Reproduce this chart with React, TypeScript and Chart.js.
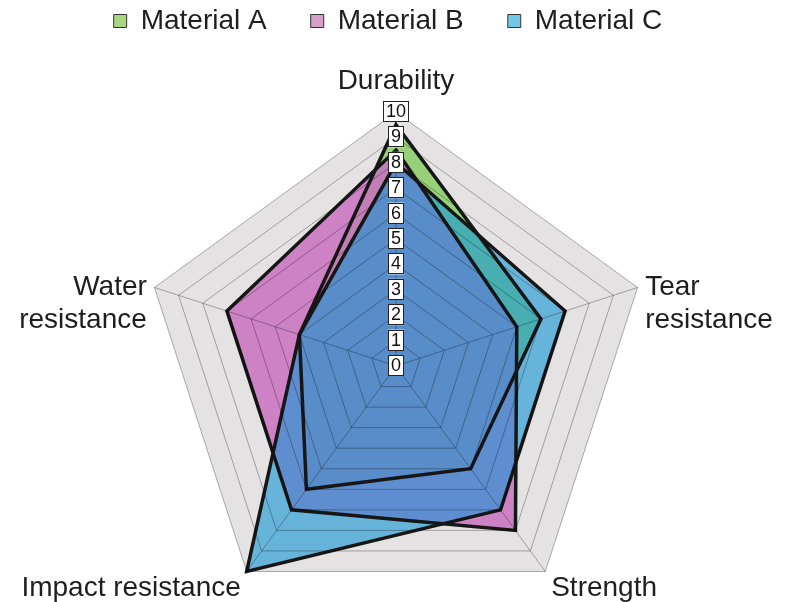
import React, { useEffect, useRef } from 'react';
import { Chart, registerables } from 'chart.js';

Chart.register(...registerables);

const FONT = "'Liberation Sans', Arial, Helvetica, sans-serif";

// ---- data ----
const categories: (string | string[])[] = [
  'Durability',
  ['Tear', 'resistance'],
  'Strength',
  'Impact resistance',
  ['Water', 'resistance'],
];
const seriesNames = ['Material A', 'Material B', 'Material C'];
const materialA = [9.5, 6, 5, 6, 4];
const materialB = [8.5, 5, 8, 7, 7];
const materialC = [8, 7, 7, 10, 4];
const scaleMin = 0;
const scaleMax = 10;
const scaleStep = 1;

// ---- styles ----
const fillColors = ['rgba(130,205,95,0.8)', 'rgba(201,113,192,0.85)', 'rgba(20,150,215,0.6)'];
const legendColors = ['#aad682', '#d7a0c8', '#6ec8e6'];
const drawOrder = [3, 2, 1];
const TEXT = '#1e1e1e';
const TICK_SIZE = 18;
const TICK_PAD = { top: 2, bottom: 1, left: 3, right: 3 };
const LABEL_SIZE = 28;
const LABEL_LINE = 33;
// per point label: extra radial distance, alignment, baseline shift
const pointLabelLayout = [
  { pad: 23, align: 'center', dy: 0 },
  { pad: 8, align: 'left', dy: 10 },
  { pad: 10, align: 'left', dy: 16 },
  { pad: 10, align: 'right', dy: 16 },
  { pad: 8, align: 'right', dy: 10 },
];

const backgroundPlugin = {
  id: 'radarBackground',
  beforeDraw(chart: any) {
    const s = chart.scales.r;
    const ctx = chart.ctx;
    const d = s.getDistanceFromCenterForValue(scaleMax);
    ctx.save();
    ctx.beginPath();
    for (let i = 0; i < categories.length; i++) {
      const p = s.getPointPosition(i, d);
      if (i === 0) ctx.moveTo(p.x, p.y);
      else ctx.lineTo(p.x, p.y);
    }
    ctx.closePath();
    ctx.fillStyle = '#e4e2e2';
    ctx.fill();
    ctx.restore();
  },
};

const labelsPlugin = {
  id: 'radarLabels',
  afterDraw(chart: any) {
    const s = chart.scales.r;
    const ctx = chart.ctx;
    ctx.save();
    ctx.font = `${TICK_SIZE}px ${FONT}`;
    ctx.textAlign = 'center';
    ctx.textBaseline = 'middle';
    s.ticks.forEach((t: any, i: number) => {
      const off = s.getDistanceFromCenterForValue(t.value);
      const label = String(t.label);
      const w = ctx.measureText(label).width;
      const x = s.xCenter - w / 2 - TICK_PAD.left;
      const y = s.yCenter - off - TICK_SIZE / 2 - TICK_PAD.top;
      const bw = w + TICK_PAD.left + TICK_PAD.right;
      const bh = TICK_SIZE + TICK_PAD.top + TICK_PAD.bottom;
      if (i === 0) {
        ctx.fillStyle = '#ffffff';
        ctx.fillRect(x, y, bw, bh);
        ctx.fillStyle = '#111';
        ctx.fillText(label, s.xCenter, s.yCenter - off);
      }
      ctx.strokeStyle = '#222';
      ctx.lineWidth = 1;
      ctx.strokeRect(Math.round(x) + 0.5, Math.round(y) + 0.5, Math.round(bw) - 1, Math.round(bh) - 1);
    });
    ctx.font = `${LABEL_SIZE}px ${FONT}`;
    ctx.fillStyle = TEXT;
    ctx.textBaseline = 'alphabetic';
    categories.forEach((cat, i) => {
      const lay = pointLabelLayout[i];
      const p = s.getPointPosition(i, s.drawingArea + lay.pad);
      const lines = Array.isArray(cat) ? cat : [cat];
      ctx.textAlign = lay.align;
      lines.forEach((ln, j) => {
        ctx.fillText(ln, p.x, p.y + lay.dy + j * LABEL_LINE);
      });
    });
    ctx.restore();
  },
};

export default function App() {
  const ref = useRef<HTMLCanvasElement | null>(null);
  useEffect(() => {
    if (!ref.current) return;
    const series = [materialA, materialB, materialC];
    const chart = new Chart(ref.current, {
      type: 'radar',
      data: {
        labels: categories as any,
        datasets: series.map((vals, k) => ({
          label: seriesNames[k],
          data: vals,
          fill: true,
          backgroundColor: fillColors[k],
          borderColor: '#161616',
          borderWidth: 3.5,
          pointRadius: 0,
          pointHoverRadius: 0,
          order: drawOrder[k],
        })),
      },
      options: {
        responsive: true,
        maintainAspectRatio: false,
        animation: false,
        layout: { padding: { left: 0, right: 11, top: -37, bottom: 9 } },
        plugins: {
          filler: { drawTime: 'beforeDatasetsDraw' },
          legend: {
            position: 'top',
            labels: {
              font: { size: LABEL_SIZE, family: FONT },
              color: TEXT,
              boxWidth: 13,
              boxHeight: 13,
              padding: 44,
              sort: (a: any, b: any) => a.datasetIndex - b.datasetIndex,
              generateLabels: (c: any) => {
                const items = (Chart as any).defaults.plugins.legend.labels.generateLabels(c);
                return items.map((it: any) => ({
                  ...it,
                  fillStyle: legendColors[it.datasetIndex],
                  strokeStyle: '#333',
                  lineWidth: 1,
                }));
              },
            },
          },
          title: {
            display: true,
            text: '',
            position: 'left',
            padding: { top: 5, bottom: 0 },
            font: { size: 10 },
          },
          subtitle: {
            display: true,
            text: '',
            position: 'top',
            weight: 500,
            padding: { top: 44, bottom: 0 },
            font: { size: 10 },
          },
          tooltip: { enabled: false },
        },
        scales: {
          r: {
            min: scaleMin,
            max: scaleMax,
            ticks: {
              stepSize: scaleStep,
              z: 2,
              color: '#111',
              font: { size: TICK_SIZE, family: FONT },
              showLabelBackdrop: true,
              backdropColor: '#ffffff',
              backdropPadding: TICK_PAD,
            },
            grid: { color: 'rgba(0,0,0,0.3)', lineWidth: 1, z: 1 },
            angleLines: { color: 'rgba(0,0,0,0.3)', lineWidth: 1 },
            pointLabels: { display: false },
          },
        },
      } as any,
      plugins: [backgroundPlugin, labelsPlugin],
    });
    return () => chart.destroy();
  }, []);
  return (
    <div style={{ position: 'fixed', left: 0, top: 0, width: 787, height: 640, background: '#fff' }}>
      <canvas ref={ref} />
    </div>
  );
}
